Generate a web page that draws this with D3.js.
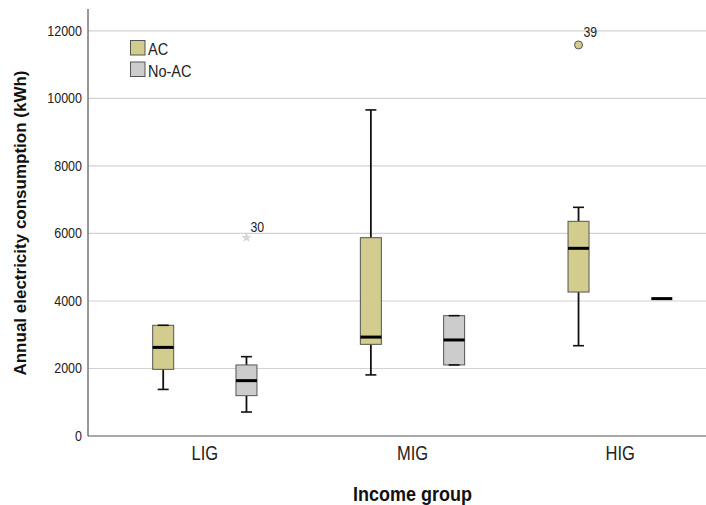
<!DOCTYPE html>
<html>
<head>
<meta charset="utf-8">
<script src="https://cdn.jsdelivr.net/npm/d3@7"></script>
<style>
  body { margin: 0; background: #fff; }
  svg { display: block; font-family: "Liberation Sans", Arial, sans-serif; }
</style>
</head>
<body>
<svg id="chart" width="706" height="505"></svg>
<script>
const categories = ["LIG", "MIG", "HIG"];
const series = ["AC", "No-AC"];
const yTicks = [0, 2000, 4000, 6000, 8000, 10000, 12000];

// [min whisker, Q1, median, Q3, max whisker] per category
const acStats = [
  [1380, 1975, 2625, 3280, 3280],
  [1810, 2715, 2930, 5875, 9660],
  [2675, 4265, 5560, 6360, 6775]
];
const noAcStats = [
  [710, 1195, 1640, 2105, 2350],
  [2105, 2105, 2845, 3565, 3565],
  [4070, 4070, 4070, 4070, 4070]
];

// outliers: category, series, value, case label, marker
const outliers = [
  { cat: "LIG", ser: "No-AC", value: 5875, label: "30", type: "extreme" },
  { cat: "HIG", ser: "AC", value: 11585, label: "39", type: "outlier" }
];

const fills = { "AC": "#d2cc8e", "No-AC": "#cccccc" };

const svg = d3.select("#chart");
const mLeft = 88, mBottom = 436, mTop = 9, mRight = 706;
const stretch = 1.18; // text in the original looks a bit tall

// y scale
const y = d3.scaleLinear().domain([0, 12650]).range([mBottom, mTop]);

// category and series positions
const x = d3.scaleBand().domain(categories).range([101, 724]);
const xs = d3.scalePoint().domain(series).range([0, x.bandwidth()]).padding(0.747);
const boxW = 21;

// text helper with a vertical stretch
function label(parent, tx, ty, txt, size, opts = {}) {
  return parent.append("text")
    .attr("transform", `translate(${tx},${ty}) scale(1,${opts.sy || stretch})`)
    .attr("text-anchor", opts.anchor || "start")
    .attr("font-size", size)
    .attr("font-weight", opts.bold ? "bold" : "normal")
    .attr("fill", opts.fill || "#222")
    .text(txt);
}

// grid lines
svg.append("g")
  .selectAll("line")
  .data(yTicks.filter(d => d > 0))
  .join("line")
  .attr("x1", mLeft).attr("x2", mRight)
  .attr("y1", d => y(d)).attr("y2", d => y(d))
  .attr("stroke", "#d2d2d2")
  .attr("stroke-width", 1.2);

// y axis
const yAxis = svg.append("g")
  .attr("transform", `translate(${mLeft},0)`)
  .call(d3.axisLeft(y).tickValues(yTicks).tickSize(0).tickPadding(6).tickFormat(d3.format("d")));
yAxis.select(".domain").remove();
yAxis.selectAll("text")
  .attr("font-size", 12.5).attr("fill", "#222")
  .attr("font-family", "'Liberation Sans', Arial, sans-serif")
  .attr("dy", "0.3em")
  .attr("transform", `scale(1,${stretch})`);

// axis lines
svg.append("line").attr("x1", mLeft).attr("x2", mLeft).attr("y1", mTop).attr("y2", mBottom)
  .attr("stroke", "#555").attr("stroke-width", 1.2);
svg.append("line").attr("x1", mLeft).attr("x2", mRight).attr("y1", mBottom).attr("y2", mBottom)
  .attr("stroke", "#555").attr("stroke-width", 1.2);

// x axis labels
const xAxis = svg.append("g")
  .attr("transform", `translate(0,${mBottom})`)
  .call(d3.axisBottom(x).tickSize(0).tickPadding(9));
xAxis.select(".domain").remove();
xAxis.selectAll("text")
  .attr("font-size", 16.5).attr("fill", "#222")
  .attr("font-family", "'Liberation Sans', Arial, sans-serif")
  .attr("transform", `scale(1,${stretch})`);

// build box list
const boxes = [];
categories.forEach((c, i) => {
  boxes.push({ cat: c, ser: "AC", s: acStats[i] });
  boxes.push({ cat: c, ser: "No-AC", s: noAcStats[i] });
});

const g = svg.append("g");
boxes.forEach(b => {
  const cx = x(b.cat) + xs(b.ser);
  const [lo, q1, med, q3, hi] = b.s;
  const bg = g.append("g");
  // whiskers
  if (lo < q1) {
    bg.append("line").attr("x1", cx).attr("x2", cx).attr("y1", y(lo)).attr("y2", y(q1))
      .attr("stroke", "#111").attr("stroke-width", 1.8);
  }
  if (hi > q3) {
    bg.append("line").attr("x1", cx).attr("x2", cx).attr("y1", y(q3)).attr("y2", y(hi))
      .attr("stroke", "#111").attr("stroke-width", 1.8);
  }
  if (q3 > q1) {
    bg.append("rect")
      .attr("x", cx - boxW / 2).attr("width", boxW)
      .attr("y", y(q3)).attr("height", y(q1) - y(q3))
      .attr("fill", fills[b.ser])
      .attr("stroke", "#555").attr("stroke-width", 1);
  }
  // caps
  [lo, hi].forEach(v => {
    if (q3 > q1) {
      bg.append("line").attr("x1", cx - 5.5).attr("x2", cx + 5.5).attr("y1", y(v)).attr("y2", y(v))
        .attr("stroke", "#111").attr("stroke-width", 1.6);
    }
  });
  // median
  bg.append("line").attr("x1", cx - boxW / 2).attr("x2", cx + boxW / 2)
    .attr("y1", y(med)).attr("y2", y(med))
    .attr("stroke", "#000").attr("stroke-width", 3);
});

// outliers
outliers.forEach(o => {
  const cx = x(o.cat) + xs(o.ser);
  const cy = y(o.value);
  if (o.type === "extreme") {
    g.append("path")
      .attr("d", d3.symbol(d3.symbolStar, 22)())
      .attr("transform", `translate(${cx},${cy})`)
      .attr("fill", "#d8d8d8").attr("stroke", "#c8c8c8").attr("stroke-width", 0.5);
    label(g, cx + 4, cy - 6, o.label, 12.3);
  } else {
    g.append("circle").attr("cx", cx).attr("cy", cy).attr("r", 4)
      .attr("fill", fills[o.ser]).attr("stroke", "#555").attr("stroke-width", 1);
    label(g, cx + 5, cy - 8.3, o.label, 12.3);
  }
});

// legend
const legend = svg.append("g").attr("transform", "translate(130.5,40.5)");
series.forEach((s, i) => {
  const lg = legend.append("g").attr("transform", `translate(0,${i * 21.5})`);
  lg.append("rect").attr("width", 14.5).attr("height", 14.5)
    .attr("fill", fills[s]).attr("stroke", "#555").attr("stroke-width", 1);
  label(lg, 17.5, 14.5, s, 14.5, { sy: 1.1 });
});

// axis titles
svg.append("text")
  .attr("transform", `translate(26,223) rotate(-90)`)
  .attr("text-anchor", "middle")
  .attr("font-size", 17).attr("font-weight", "bold").attr("fill", "#111")
  .text("Annual electricity consumption (kWh)");
label(svg, x("MIG") + x.bandwidth() / 2, 501, "Income group", 18, { anchor: "middle", bold: true, fill: "#111", sy: 1.15 });
</script>
</body>
</html>
